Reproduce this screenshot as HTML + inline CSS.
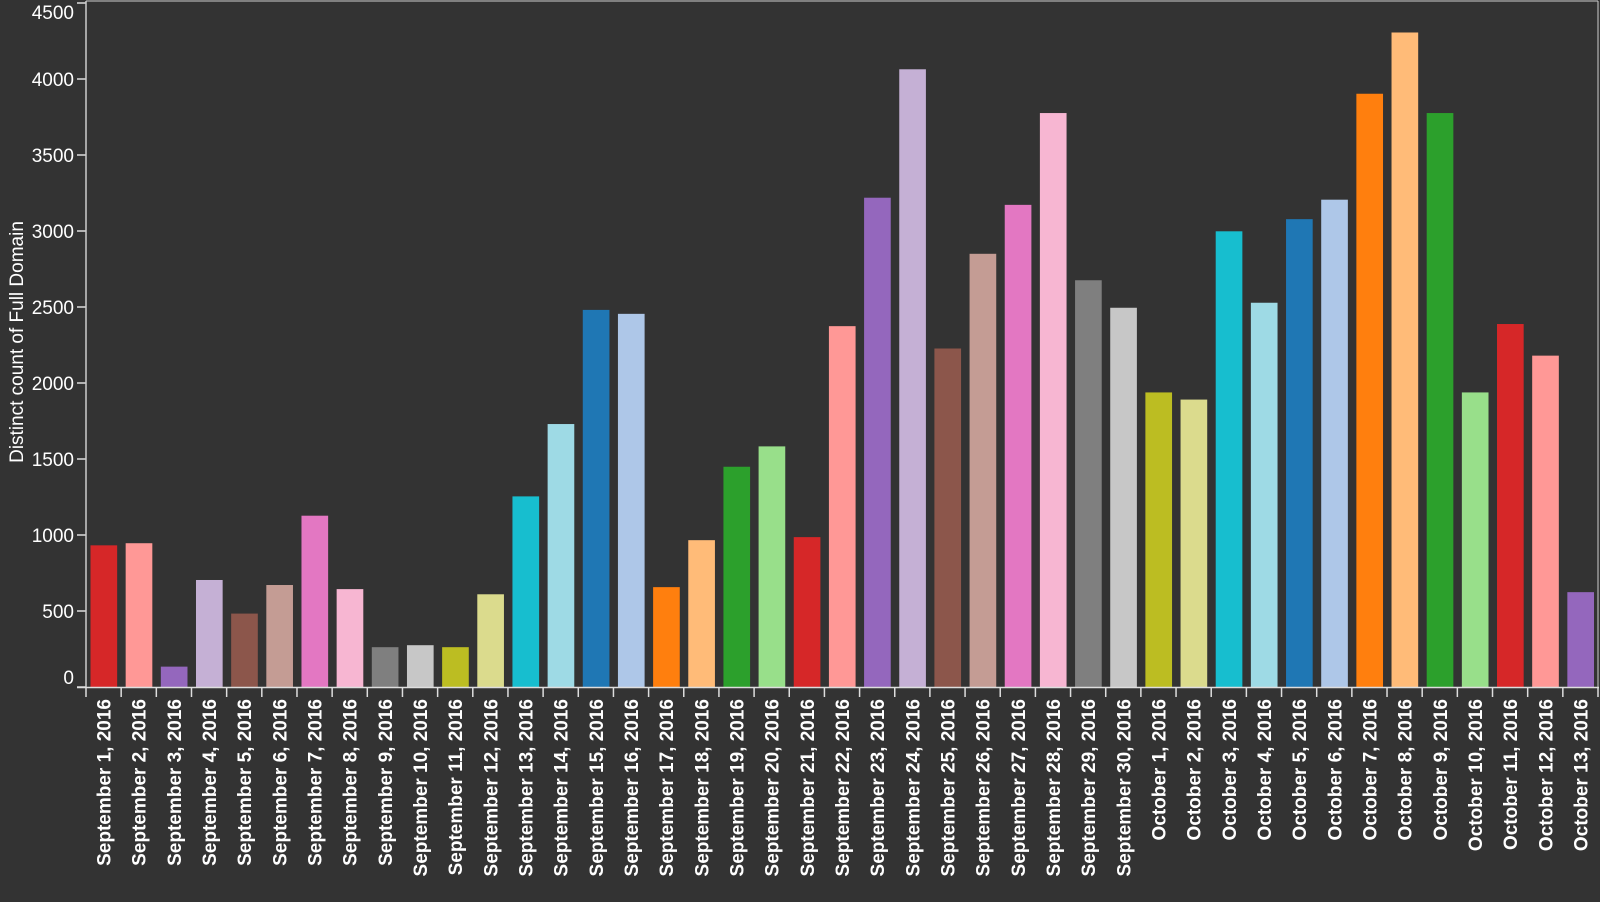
<!DOCTYPE html>
<html><head><meta charset="utf-8"><style>
html,body{margin:0;padding:0;background:#333;}
svg{display:block;font-family:"Liberation Sans",Arial,sans-serif;}
</style></head><body>
<svg id="c" width="1600" height="902" xmlns="http://www.w3.org/2000/svg">
<rect width="1600" height="902" fill="#333"/>
<g id="bars"></g>
<line x1="86" y1="1" x2="1598" y2="1" stroke="#ccc" stroke-width="1"/>
<line x1="1598" y1="1" x2="1598" y2="687" stroke="#ccc" stroke-width="1"/>
<line x1="86" y1="1" x2="86" y2="687" stroke="#ccc" stroke-width="1.5"/>
<line x1="77" y1="687.5" x2="1599" y2="687.5" stroke="#ddd" stroke-width="1.5"/>
<g id="yax" fill="#fff" font-size="19" text-anchor="end"></g>
<g id="xax" fill="#fff" font-size="19" font-weight="bold" text-anchor="end"></g>
<text transform="translate(23,342) rotate(-90)" fill="#fff" font-size="19" text-anchor="middle">Distinct count of Full Domain</text>
</svg>
<script>
var vals=[932,946,134,704,483,671,1127,644,262,275,262,610,1254,1730,2481,2455,657,966,1449,1583,986,2374,3219,4064,2227,2850,3172,3776,2676,2495,1938,1891,2998,2528,3078,3206,3903,4306,3776,1938,2388,2180,624];
var cols=["#d62728","#ff9896","#9467bd","#c5b0d5","#8c564b","#c49c94","#e377c2","#f7b6d2","#7f7f7f","#c7c7c7","#bcbd22","#dbdb8d","#17becf","#9edae5","#1f77b4","#aec7e8","#ff7f0e","#ffbb78","#2ca02c","#98df8a"];
var ns="http://www.w3.org/2000/svg";
function el(t,a,p,txt){var e=document.createElementNS(ns,t);for(var k in a)e.setAttribute(k,a[k]);if(txt!=null)e.textContent=txt;document.getElementById(p).appendChild(e);return e;}
var y0=687,k=0.152,x0=86,bw=1512/43;
for(var i=0;i<43;i++){
 var h=vals[i]*k,x=x0+i*bw;
 el("rect",{x:x+4.5,y:y0-h,width:bw-8.5,height:h,fill:cols[i%20]},"bars");
 el("line",{x1:x,y1:y0,x2:x,y2:y0+10,stroke:"#ddd","stroke-width":1.5},"bars");
 var lab=i<30?("September "+(i+1)+", 2016"):("October "+(i-29)+", 2016");
 var cx=x+bw/2+7;
 el("text",{transform:"translate("+cx+",699) rotate(-90)"},"xax",lab);
}
el("line",{x1:1598,y1:y0,x2:1598,y2:y0+10,stroke:"#ddd","stroke-width":1.5},"bars");
for(var v=0;v<=4500;v+=500){
 var y=y0-v*k;
 el("line",{x1:77,y1:y,x2:86,y2:y,stroke:"#ddd","stroke-width":1.5},"bars");
 var cy=y; if(v==0)cy=677; if(v==4500)cy=12;
 el("text",{x:74,y:cy+7},"yax",String(v));
}
</script>
</body></html>
